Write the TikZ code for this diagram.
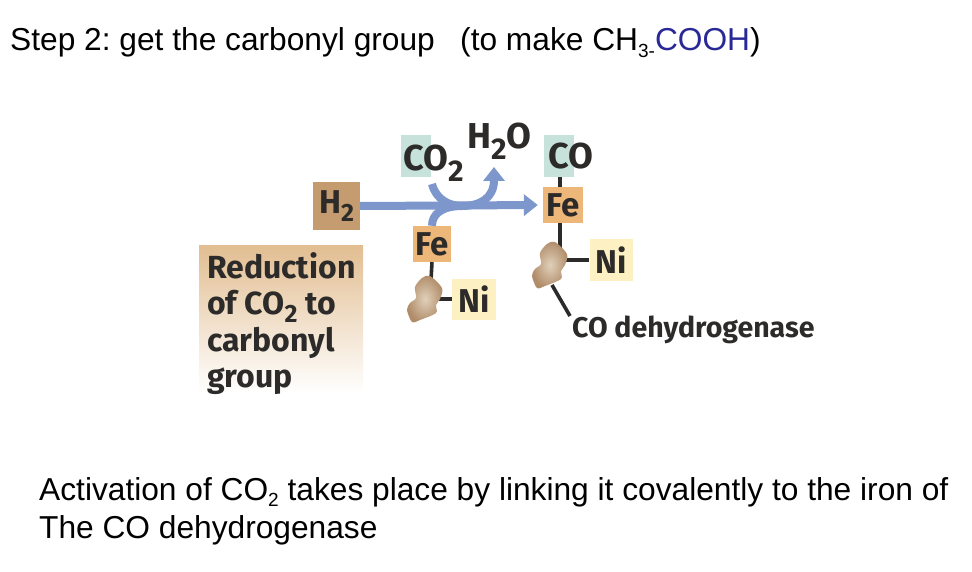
\documentclass[tikz,border=0pt]{standalone}
\usepackage{fontspec}
\setmainfont{Liberation Sans}
\newfontfamily\tagfont{Fira Sans}
\usetikzlibrary{arrows.meta,positioning}
\definecolor{tagink}{RGB}{45,43,42}
\definecolor{flowblue}{RGB}{125,150,203}
\definecolor{feorange}{RGB}{237,183,122}
\definecolor{hbrown}{RGB}{197,155,112}
\definecolor{nicream}{RGB}{253,241,195}
\definecolor{cogreen}{RGB}{198,226,218}
\definecolor{notetan}{RGB}{226,190,146}
\definecolor{cooblue}{RGB}{40,40,150}
\newcommand{\lowsub}[1]{\raisebox{-.22em}{\fontsize{19}{19}\selectfont #1}}
\newcommand{\tagsub}[1]{\raisebox{-.26em}{\fontsize{25}{25}\selectfont #1}}
\newcommand{\bigsub}[1]{\raisebox{-.3em}{\fontsize{30}{30}\selectfont #1}}
\begin{document}
\frenchspacing
\begin{tikzpicture}[x=1pt,y=-1pt]
        \tikzset{
        slide/.style={anchor=base west, inner sep=0pt, font=\fontsize{31.7}{36}\selectfont},
        tagbox/.style={inner sep=0pt, text=tagink, font=\tagfont\bfseries\fontsize{33}{32}\selectfont},
        tagtext/.style={inner sep=0pt, text=tagink, font=\tagfont\bfseries\fontsize{36}{32}\selectfont},
        bond/.style={line width=3.6pt, tagink},
        flow/.style={line width=8pt, flowblue},
        flowtip/.style={-{Triangle[width=21pt,length=14pt]}},
        pics/blob/.style={code={
          \shade[inner color=blobin, outer color=blobout]
            plot [smooth cycle] coordinates {(5,-23) (17,-11) (15,0) (11,6) (11,14) (-5,21) (-13,23) (-18,11) (-15,4) (-9,-1) (-10,-12) (-3,-21)};
        }},
        }
        \definecolor{blobin}{RGB}{225,208,186}
        \definecolor{blobout}{RGB}{176,140,105}
        \useasboundingbox (0,0) rectangle (972,572);

        % Slide text.
        \node[slide] (title) at (10,51) {Step 2: get the carbonyl group};
        \node[slide] (aim) at (460,51) {(to make CH\lowsub{3-}\textcolor{cooblue}{COOH})};
        \node[slide] (line1) at (39,500) {Activation of CO\lowsub{2} takes place by linking it covalently to the iron of};
        \node[slide] (line2) at (39,538) {The CO dehydrogenase};

        % Boxes.
        \node[tagbox, fill=hbrown, minimum width=47pt, minimum height=48pt] (h2) at (336.5,206) {H\tagsub{2}};
        \node[fill=cogreen, inner sep=0pt, minimum width=30pt, minimum height=42pt] (co2box) at (416,156) {};
        \node[fill=cogreen, inner sep=0pt, minimum width=30pt, minimum height=42pt] (cobox) at (559,156) {};
        \node[tagbox, fill=feorange, minimum width=38pt, minimum height=36pt] (fel) at (432,244) {Fe};
        \node[tagbox, fill=feorange, minimum width=40pt, minimum height=36pt] (fer) at (563,205) {Fe};
        \node[tagbox, fill=nicream, minimum width=44pt, minimum height=41pt] (nil) at (474,299) {Ni};
        \node[tagbox, fill=nicream, minimum width=43pt, minimum height=41pt] (nir) at (611,260) {Ni};

        % Note.
        \node[top color=notetan, bottom color=white, inner sep=0pt, minimum width=164pt, minimum height=147pt] (notebox) at (281,319.5) {};
        \node[tagbox, anchor=north west, align=left, font=\tagfont\bfseries\fontsize{32}{36.5}\selectfont] (note) at (207,252)
          {Reduction\\of CO\tagsub{2} to\\carbonyl\\group};

        % Labels.
        \node[tagtext, anchor=base west] (co2) at (403,171) {CO\bigsub{2}};
        \node[tagtext, anchor=base west] (h2o) at (467,149) {H\bigsub{2}O};
        \node[tagtext, anchor=base west] (co) at (548,169) {CO};
        \node[tagbox, anchor=base west, font=\tagfont\bfseries\fontsize{28.5}{30}\selectfont] (dehyd) at (572,337) {CO dehydrogenase};

        \coordinate (blobl) at (425,299);
        \coordinate (blobr) at (550,265);
        \coordinate (bloblt) at (431,280);
        \coordinate (bloblr) at (436,299);
        \coordinate (blobrt) at (560,248);
        \coordinate (blobrr) at (561,260);
        \coordinate (blobrb) at (552,285);
        \coordinate (dehydt) at (570,316);
        \coordinate (co2out) at (432,184);
        \coordinate (h2oin) at (494,167);
        \coordinate (flowmid) at (462,206);

        % Bonds.
        \draw[bond] (fel.south) -- (bloblt);
        \draw[bond] (bloblr) -- (nil.west);
        \draw[bond] (fer.south -| blobrt) -- (blobrt);
        \draw[bond] (cobox.south -| blobrt) -- (fer.north -| blobrt);
        \draw[bond] (blobrr) -- (nir.west);
        \draw[bond] (blobrb) -- (dehydt);

        \path (blobl) pic {blob};
        \path (blobr) pic {blob};

        % Flow arrows.
        \draw[flow, flowtip, shorten >=5pt] (h2.east) -- (fer.west);
        \draw[flow] (fel.north) .. controls (432,214) and (442,206) .. (flowmid);
        \draw[flow, flowtip] (co2out) .. controls (436,200) and (450,206) .. (flowmid) .. controls (480,206) and (494,198) .. (h2oin);
\end{tikzpicture}
\end{document}
